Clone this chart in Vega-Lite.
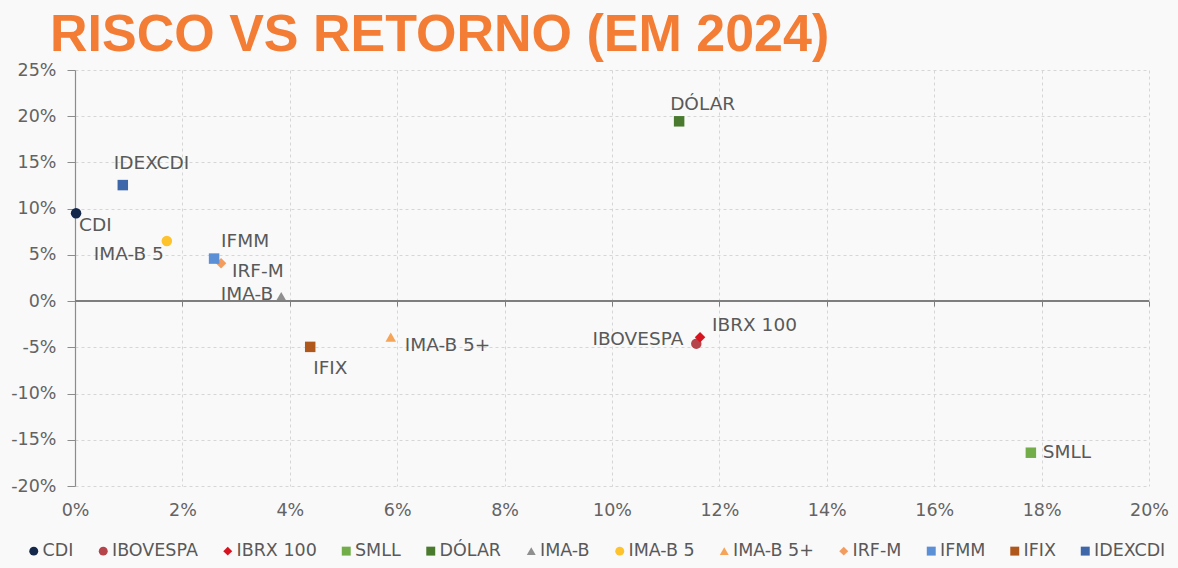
{
  "$schema": "https://vega.github.io/schema/vega-lite/v6.json",
  "width": 1074,
  "height": 416,
  "autosize": {"type": "none"},
  "padding": {"left": 75, "top": 70, "right": 29, "bottom": 82},
  "background": "#f9f9f9",
  "title": {
    "text": "RISCO VS RETORNO (EM 2024)",
    "anchor": "start",
    "frame": "group",
    "dx": -25,
    "offset": -1,
    "font": "Liberation Sans",
    "fontSize": 52,
    "fontWeight": "bold",
    "color": "#f47d35"
  },
  "config": {
    "view": {"stroke": null},
    "font": "DejaVu Sans",
    "text": {"font": "DejaVu Sans", "fontSize": 18.5, "fill": "#595959"}
  },
  "data": {
    "values": [
      {"name": "CDI", "risk": 0.02, "ret": 9.5},
      {"name": "IBOVESPA", "risk": 11.57, "ret": -4.6},
      {"name": "IBRX 100", "risk": 11.64, "ret": -3.9},
      {"name": "SMLL", "risk": 17.8, "ret": -16.4},
      {"name": "DÓLAR", "risk": 11.25, "ret": 19.45},
      {"name": "IMA-B", "risk": 3.84, "ret": 0.5},
      {"name": "IMA-B 5", "risk": 1.71, "ret": 6.5},
      {"name": "IMA-B 5+", "risk": 5.88, "ret": -3.9},
      {"name": "IRF-M", "risk": 2.72, "ret": 4.1},
      {"name": "IFMM", "risk": 2.59, "ret": 4.6},
      {"name": "IFIX", "risk": 4.38, "ret": -4.95},
      {"name": "IDEXCDI", "risk": 0.89, "ret": 12.55}
    ]
  },
  "encoding": {
    "x": {"field": "risk", "type": "quantitative", "scale": {"domain": [0, 20], "nice": false, "zero": false}},
    "y": {"field": "ret", "type": "quantitative", "scale": {"domain": [-20, 25], "nice": false, "zero": false}}
  },
  "resolve": {"axis": {"x": "independent"}},
  "layer": [
    {
      "mark": {"type": "point", "filled": true, "opacity": 1, "size": 110},
      "encoding": {
        "x": {"field": "risk", "type": "quantitative", "axis": {
          "orient": "bottom",
          "title": null, "values": [0, 2, 4, 6, 8, 10, 12, 14, 16, 18, 20],
          "labelExpr": "datum.value + '%'", "domain": false, "ticks": false, "labelFlush": false,
          "labelFontSize": 17.5, "labelColor": "#636363", "labelPadding": 15, "labelFont": "DejaVu Sans",
          "grid": true, "gridColor": "#d6d6d6", "gridDash": [3, 3], "gridWidth": 1
        }},
        "y": {"field": "ret", "type": "quantitative", "axis": {
          "title": null, "values": [-20, -15, -10, -5, 0, 5, 10, 15, 20, 25],
          "labelExpr": "datum.value + '%'", "domain": true, "domainColor": "#8c8c8c", "domainWidth": 1.2,
          "ticks": true, "tickSize": 8, "tickColor": "#8c8c8c", "labelFlush": false,
          "labelFontSize": 17.5, "labelColor": "#636363", "labelPadding": 11, "labelFont": "DejaVu Sans",
          "grid": true, "gridColor": "#d6d6d6", "gridDash": [3, 3], "gridWidth": 1
        }},
        "color": {"field": "name", "type": "nominal", "title": null,
          "scale": {
            "domain": ["CDI", "IBOVESPA", "IBRX 100", "SMLL", "DÓLAR", "IMA-B", "IMA-B 5", "IMA-B 5+", "IRF-M", "IFMM", "IFIX", "IDEXCDI"],
            "range": ["#14284b", "#b5444b", "#d7131f", "#72ad4a", "#4a7a2e", "#8f8f8f", "#fdc22c", "#f5a458", "#f39c5e", "#5b8fd6", "#b0571b", "#3d67a8"]
          },
          "legend": {
            "orient": "none", "legendX": -50, "legendY": 472, "direction": "horizontal", "columns": 12,
            "labelFontSize": 17.5, "labelColor": "#595959", "labelFont": "DejaVu Sans",
            "symbolSize": 80, "columnPadding": 20.5, "labelOffset": 0, "symbolOpacity": 1
          }
        },
        "shape": {"field": "name", "type": "nominal", "title": null,
          "scale": {
            "domain": ["CDI", "IBOVESPA", "IBRX 100", "SMLL", "DÓLAR", "IMA-B", "IMA-B 5", "IMA-B 5+", "IRF-M", "IFMM", "IFIX", "IDEXCDI"],
            "range": ["circle", "circle", "diamond", "square", "square", "triangle-up", "circle", "triangle-up", "diamond", "square", "square", "square"]
          }
        }
      }
    },
    {
      "mark": {"type": "rule", "color": "#7f7f7f", "strokeWidth": 1.2},
      "encoding": {
        "y": {"datum": 0, "type": "quantitative"},
        "x": {"datum": 0, "type": "quantitative", "axis": {
          "orient": "bottom",
          "title": null, "values": [0, 2, 4, 6, 8, 10, 12, 14, 16, 18, 20], "labels": false,
          "domain": false, "ticks": true, "tickSize": 5, "tickColor": "#7f7f7f", "grid": false, "offset": -185
        }},
        "x2": {"datum": 20}
      }
    },
    {
      "transform": [{"filter": {"field": "name", "oneOf": ["CDI"]}}],
      "mark": {"type": "text", "align": "left", "baseline": "middle", "dx": 3, "dy": 12},
      "encoding": {"text": {"field": "name"}, "x": {"field": "risk", "type": "quantitative", "axis": null}}
    },
    {
      "transform": [{"filter": {"field": "name", "oneOf": ["IDEXCDI"]}}],
      "mark": {"type": "text", "align": "left", "baseline": "middle", "dx": -9, "dy": -22},
      "encoding": {"text": {"field": "name"}, "x": {"field": "risk", "type": "quantitative", "axis": null}}
    },
    {
      "transform": [{"filter": {"field": "name", "oneOf": ["IMA-B 5"]}}],
      "mark": {"type": "text", "align": "right", "baseline": "middle", "dx": -3, "dy": 13},
      "encoding": {"text": {"field": "name"}, "x": {"field": "risk", "type": "quantitative", "axis": null}}
    },
    {
      "transform": [{"filter": {"field": "name", "oneOf": ["IFMM"]}}],
      "mark": {"type": "text", "align": "left", "baseline": "middle", "dx": 7, "dy": -18},
      "encoding": {"text": {"field": "name"}, "x": {"field": "risk", "type": "quantitative", "axis": null}}
    },
    {
      "transform": [{"filter": {"field": "name", "oneOf": ["IRF-M"]}}],
      "mark": {"type": "text", "align": "left", "baseline": "middle", "dx": 11, "dy": 8},
      "encoding": {"text": {"field": "name"}, "x": {"field": "risk", "type": "quantitative", "axis": null}}
    },
    {
      "transform": [{"filter": {"field": "name", "oneOf": ["IMA-B"]}}],
      "mark": {"type": "text", "align": "right", "baseline": "middle", "dx": -8, "dy": -2},
      "encoding": {"text": {"field": "name"}, "x": {"field": "risk", "type": "quantitative", "axis": null}}
    },
    {
      "transform": [{"filter": {"field": "name", "oneOf": ["IFIX"]}}],
      "mark": {"type": "text", "align": "left", "baseline": "middle", "dx": 3, "dy": 21},
      "encoding": {"text": {"field": "name"}, "x": {"field": "risk", "type": "quantitative", "axis": null}}
    },
    {
      "transform": [{"filter": {"field": "name", "oneOf": ["IMA-B 5+"]}}],
      "mark": {"type": "text", "align": "left", "baseline": "middle", "dx": 14, "dy": 8},
      "encoding": {"text": {"field": "name"}, "x": {"field": "risk", "type": "quantitative", "axis": null}}
    },
    {
      "transform": [{"filter": {"field": "name", "oneOf": ["IBOVESPA"]}}],
      "mark": {"type": "text", "align": "right", "baseline": "middle", "dx": -13, "dy": -5},
      "encoding": {"text": {"field": "name"}, "x": {"field": "risk", "type": "quantitative", "axis": null}}
    },
    {
      "transform": [{"filter": {"field": "name", "oneOf": ["IBRX 100"]}}],
      "mark": {"type": "text", "align": "left", "baseline": "middle", "dx": 12, "dy": -12},
      "encoding": {"text": {"field": "name"}, "x": {"field": "risk", "type": "quantitative", "axis": null}}
    },
    {
      "transform": [{"filter": {"field": "name", "oneOf": ["DÓLAR"]}}],
      "mark": {"type": "text", "align": "left", "baseline": "middle", "dx": -9, "dy": -17},
      "encoding": {"text": {"field": "name"}, "x": {"field": "risk", "type": "quantitative", "axis": null}}
    },
    {
      "transform": [{"filter": {"field": "name", "oneOf": ["SMLL"]}}],
      "mark": {"type": "text", "align": "left", "baseline": "middle", "dx": 12, "dy": -1},
      "encoding": {"text": {"field": "name"}, "x": {"field": "risk", "type": "quantitative", "axis": null}}
    }
  ]
}
